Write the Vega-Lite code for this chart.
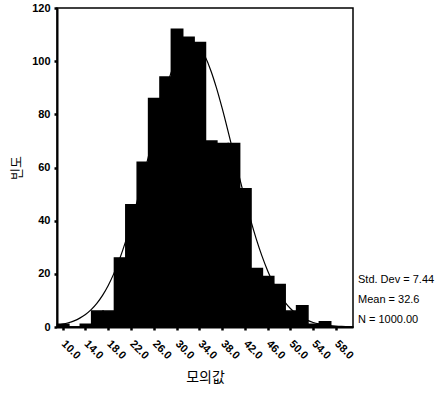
{
  "$schema": "https://vega.github.io/schema/vega-lite/v6.json",
  "width": 296,
  "height": 319,
  "autosize": {"type": "none"},
  "padding": {"left": 57, "top": 8, "right": 86, "bottom": 72},
  "background": "white",
  "config": {
    "view": {"stroke": "#000", "strokeWidth": 1.5},
    "font": "Liberation Sans",
    "axis": {
      "grid": false,
      "domainColor": "#000",
      "domainWidth": 2,
      "tickColor": "#000",
      "tickWidth": 2.5,
      "tickSize": 3,
      "labelColor": "#000",
      "labelFont": "Liberation Sans",
      "labelFontSize": 11,
      "labelFontWeight": "bold",
      "labelOverlap": false,
      "titleColor": "#000",
      "titleFont": "Noto Sans CJK KR",
      "titleFontWeight": "normal"
    }
  },
  "datasets": {
    "bars": [
      {"lo": 9, "hi": 11, "count": 1},
      {"lo": 11, "hi": 13, "count": 0},
      {"lo": 13, "hi": 15, "count": 1},
      {"lo": 15, "hi": 17, "count": 6},
      {"lo": 17, "hi": 19, "count": 6},
      {"lo": 19, "hi": 21, "count": 26},
      {"lo": 21, "hi": 23, "count": 46},
      {"lo": 23, "hi": 25, "count": 62},
      {"lo": 25, "hi": 27, "count": 86},
      {"lo": 27, "hi": 29, "count": 94},
      {"lo": 29, "hi": 31, "count": 112},
      {"lo": 31, "hi": 33, "count": 109},
      {"lo": 33, "hi": 35, "count": 107},
      {"lo": 35, "hi": 37, "count": 70},
      {"lo": 37, "hi": 39, "count": 69},
      {"lo": 39, "hi": 41, "count": 69},
      {"lo": 41, "hi": 43, "count": 52},
      {"lo": 43, "hi": 45, "count": 22},
      {"lo": 45, "hi": 47, "count": 19},
      {"lo": 47, "hi": 49, "count": 16},
      {"lo": 49, "hi": 51, "count": 6},
      {"lo": 51, "hi": 53, "count": 8},
      {"lo": 53, "hi": 55, "count": 1},
      {"lo": 55, "hi": 57, "count": 2},
      {"lo": 57, "hi": 59, "count": 0},
      {"lo": 59, "hi": 61, "count": 0}
    ],
    "curve": [
      {"v": 9, "f": 0.70}, {"v": 10, "f": 1.06}, {"v": 11, "f": 1.59}, {"v": 12, "f": 2.32},
      {"v": 13, "f": 3.34}, {"v": 14, "f": 4.71}, {"v": 15, "f": 6.54}, {"v": 16, "f": 8.90},
      {"v": 17, "f": 11.90}, {"v": 18, "f": 15.64}, {"v": 19, "f": 20.17}, {"v": 20, "f": 25.56},
      {"v": 21, "f": 31.81}, {"v": 22, "f": 38.87}, {"v": 23, "f": 46.65}, {"v": 24, "f": 54.99},
      {"v": 25, "f": 63.65}, {"v": 26, "f": 72.36}, {"v": 27, "f": 80.79}, {"v": 28, "f": 88.59},
      {"v": 29, "f": 95.40}, {"v": 30, "f": 100.90}, {"v": 31, "f": 104.79}, {"v": 32, "f": 106.90},
      {"v": 32.6, "f": 107.25}, {"v": 33, "f": 107.10}, {"v": 34, "f": 105.37}, {"v": 35, "f": 101.81},
      {"v": 36, "f": 96.61}, {"v": 37, "f": 90.05}, {"v": 38, "f": 82.41}, {"v": 39, "f": 74.08},
      {"v": 40, "f": 65.40}, {"v": 41, "f": 56.70}, {"v": 42, "f": 48.28}, {"v": 43, "f": 40.38},
      {"v": 44, "f": 33.16}, {"v": 45, "f": 26.75}, {"v": 46, "f": 21.18}, {"v": 47, "f": 16.48},
      {"v": 48, "f": 12.59}, {"v": 49, "f": 9.45}, {"v": 50, "f": 6.96}, {"v": 51, "f": 5.04},
      {"v": 52, "f": 3.58}, {"v": 53, "f": 2.50}, {"v": 54, "f": 1.71}, {"v": 55, "f": 1.15},
      {"v": 56, "f": 0.76}, {"v": 57, "f": 0.50}, {"v": 58, "f": 0.32}, {"v": 59, "f": 0.20},
      {"v": 60, "f": 0.12}, {"v": 61, "f": 0.07}
    ]
  },
  "layer": [
    {
      "data": {"name": "bars"},
      "mark": {"type": "bar", "fill": "#000", "stroke": "#000", "strokeWidth": 1.5, "binSpacing": 0},
      "encoding": {
        "x": {
          "field": "lo", "type": "quantitative", "bin": "binned",
          "scale": {"domain": [9, 61], "nice": false, "zero": false},
          "axis": {
            "title": "모의값",
            "titleFontSize": 14,
            "titlePadding": 10,
            "values": [10, 14, 18, 22, 26, 30, 34, 38, 42, 46, 50, 54, 58],
            "tickCount": 30,
            "format": ".1f",
            "labelAngle": 45,
            "labelAlign": "left",
            "labelBaseline": "middle",
            "labelPadding": 12,
            "labelOverlap": false
          }
        },
        "x2": {"field": "hi"},
        "y": {
          "field": "count", "type": "quantitative",
          "scale": {"domain": [0, 120], "nice": false},
          "axis": {
            "title": "빈도",
            "titleFontSize": 13,
            "titlePadding": 8,
            "values": [0, 20, 40, 60, 80, 100, 120],
            "labelPadding": 4
          }
        }
      }
    },
    {
      "data": {"name": "curve"},
      "mark": {"type": "line", "color": "#000", "strokeWidth": 1.2, "interpolate": "monotone"},
      "encoding": {
        "x": {"field": "v", "type": "quantitative"},
        "y": {"field": "f", "type": "quantitative"}
      }
    },
    {
      "data": {"values": [{}]},
      "mark": {"type": "text", "align": "left", "baseline": "middle", "dx": 5, "fontSize": 11, "font": "Liberation Sans", "color": "#000"},
      "encoding": {
        "x": {"datum": 61, "type": "quantitative"},
        "y": {"datum": 17.7, "type": "quantitative"},
        "text": {"value": "Std. Dev = 7.44"}
      }
    },
    {
      "data": {"values": [{}]},
      "mark": {"type": "text", "align": "left", "baseline": "middle", "dx": 5, "fontSize": 11, "font": "Liberation Sans", "color": "#000"},
      "encoding": {
        "x": {"datum": 61, "type": "quantitative"},
        "y": {"datum": 10.2, "type": "quantitative"},
        "text": {"value": "Mean = 32.6"}
      }
    },
    {
      "data": {"values": [{}]},
      "mark": {"type": "text", "align": "left", "baseline": "middle", "dx": 5, "fontSize": 11, "font": "Liberation Sans", "color": "#000"},
      "encoding": {
        "x": {"datum": 61, "type": "quantitative"},
        "y": {"datum": 2.6, "type": "quantitative"},
        "text": {"value": "N = 1000.00"}
      }
    }
  ]
}
